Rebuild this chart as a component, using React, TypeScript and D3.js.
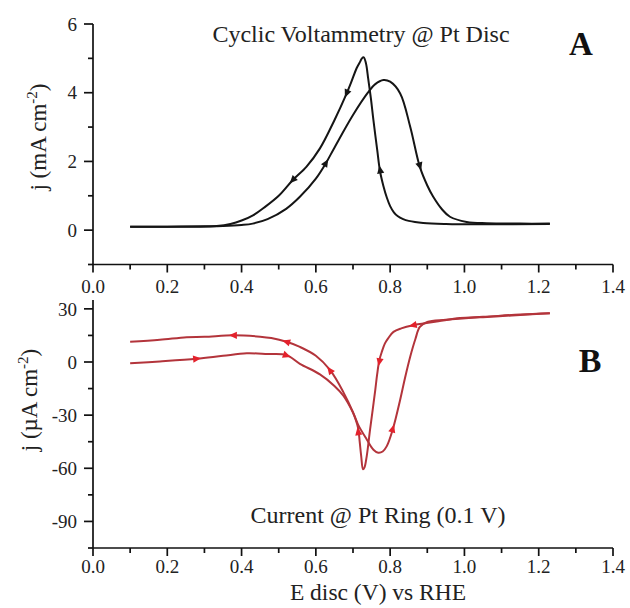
import React from "react";
import * as d3 from "d3";

// ---------- data ----------
// Panel A: cyclic voltammetry at Pt disc (E in V vs RHE, j in mA cm^-2), scan order
const cvForwardE = [0.10, 0.20, 0.30, 0.35, 0.40, 0.43, 0.47, 0.52, 0.557, 0.60, 0.627, 0.65, 0.70, 0.74, 0.76, 0.782, 0.80, 0.827, 0.854, 0.88, 0.90, 0.916, 0.94, 0.961, 1.006, 1.06, 1.15, 1.23];
const cvForwardJ = [0.10, 0.10, 0.11, 0.12, 0.15, 0.19, 0.32, 0.62, 0.97, 1.50, 1.95, 2.40, 3.35, 4.00, 4.25, 4.37, 4.32, 3.98, 3.01, 1.84, 1.30, 0.97, 0.60, 0.39, 0.24, 0.20, 0.19, 0.19];
const cvReverseE = [1.23, 1.05, 0.95, 0.889, 0.85, 0.835, 0.82, 0.81, 0.80, 0.791, 0.782, 0.773, 0.765, 0.755, 0.748, 0.741, 0.735, 0.729, 0.724, 0.72, 0.71, 0.695, 0.683, 0.65, 0.611, 0.575, 0.538, 0.50, 0.46, 0.432, 0.40, 0.37, 0.333, 0.28, 0.20, 0.10];
const cvReverseJ = [0.18, 0.17, 0.18, 0.21, 0.27, 0.32, 0.41, 0.52, 0.70, 0.95, 1.28, 1.70, 2.35, 3.20, 3.85, 4.40, 4.85, 5.03, 5.00, 4.92, 4.72, 4.30, 3.98, 3.20, 2.38, 1.85, 1.46, 1.00, 0.65, 0.44, 0.28, 0.18, 0.12, 0.10, 0.10, 0.10];
const cvForwardArrows = [0.627, 0.88];
const cvReverseArrows = [0.773, 0.683, 0.538];

// Panel B: Pt ring current (j in µA cm^-2), scan order
const ringForwardE = [0.10, 0.18, 0.279, 0.35, 0.414, 0.47, 0.521, 0.557, 0.611, 0.65, 0.674, 0.70, 0.714, 0.737, 0.755, 0.768, 0.78, 0.791, 0.807, 0.827, 0.84, 0.854, 0.868, 0.88, 0.90, 0.95, 1.05, 1.15, 1.23];
const ringForwardJ = [-0.7, 0.3, 1.8, 3.5, 4.9, 4.5, 3.9, -1.0, -7.0, -13.5, -19.0, -28.5, -35.5, -43.7, -49.5, -51.2, -50.5, -47.5, -38.1, -21.3, -9.0, 3.0, 13.0, 19.8, 22.6, 23.8, 25.3, 26.5, 27.5];
const ringReverseE = [1.23, 1.15, 1.05, 0.988, 0.93, 0.889, 0.862, 0.83, 0.809, 0.795, 0.786, 0.778, 0.771, 0.765, 0.76, 0.753, 0.746, 0.737, 0.731, 0.727, 0.722, 0.718, 0.714, 0.70, 0.674, 0.638, 0.60, 0.557, 0.521, 0.48, 0.45, 0.378, 0.30, 0.252, 0.18, 0.10];
const ringReverseJ = [27.5, 26.8, 25.5, 24.8, 23.0, 21.7, 20.8, 19.0, 17.0, 13.5, 10.5, 6.0, 1.1, -7.0, -15.7, -27.0, -38.1, -53.1, -59.5, -60.6, -53.0, -45.0, -37.5, -28.5, -17.0, -4.5, 3.5, 8.5, 11.4, 13.5, 14.3, 15.1, 14.2, 14.0, 12.5, 11.4];
const ringForwardArrows = [0.279, 0.521, 0.807];
const ringReverseArrows = [0.862, 0.771, 0.714, 0.638, 0.521, 0.378];

// ticks
const xTicks = [0, 0.2, 0.4, 0.6, 0.8, 1.0, 1.2, 1.4];
const xMinor = [0.1, 0.3, 0.5, 0.7, 0.9, 1.1, 1.3];
const topYTicks = [0, 2, 4, 6];
const topYMinor = [-1, 1, 3, 5];
const botYTicks = [30, 0, -30, -60, -90];
const botYMinor = [15, -15, -45, -75, -105];

// ---------- layout ----------
const W = 630;
const H = 608;
const FONT = "'Liberation Serif', 'Times New Roman', serif";
const x = d3.scaleLinear().domain([0, 1.4]).range([93, 613]);
const yTop = d3.scaleLinear().domain([-1, 6]).range([264.5, 24]);
const yBot = d3.scaleLinear().domain([-105, 35]).range([548, 300]);
const fmtX = d3.format(".1f");

type Pt = [number, number];
const zip = (a: number[], b: number[]): Pt[] => a.map((v, i) => [v, b[i]]);

function interp(pts: Pt[], e: number): Pt | null {
  for (let i = 0; i < pts.length - 1; i++) {
    const [e0, j0] = pts[i];
    const [e1, j1] = pts[i + 1];
    if ((e - e0) * (e - e1) <= 0 && e0 !== e1) {
      const t = (e - e0) / (e1 - e0);
      return [e, j0 + t * (j1 - j0)];
    }
  }
  return null;
}

function Arrows({ pts, at, y, dir, color }: { pts: Pt[]; at: number[]; y: d3.ScaleLinear<number, number>; dir: number; color: string }) {
  return (
    <g>
      {at.map((e, k) => {
        const p = interp(pts, e - dir * 0.003);
        const q = interp(pts, e + dir * 0.003);
        if (!p || !q) return null;
        const px = x(p[0]), py = y(p[1]);
        const qx = x(q[0]), qy = y(q[1]);
        const ang = (Math.atan2(qy - py, qx - px) * 180) / Math.PI;
        return (
          <path
            key={k}
            d="M4.5,0 L-3.5,-3.6 L-3.5,3.6 Z"
            fill={color}
            transform={`translate(${(px + qx) / 2},${(py + qy) / 2}) rotate(${ang})`}
          />
        );
      })}
    </g>
  );
}

function Panel({ y, yTicks, yMinor, labelY }: { y: d3.ScaleLinear<number, number>; yTicks: number[]; yMinor: number[]; labelY: number }) {
  const [y0, y1] = y.range();
  const axisY = y0;
  return (
    <g stroke="#111" strokeWidth={1.7} fill="none">
      <line x1={x(0)} x2={x(0)} y1={y1} y2={y0} />
      <line x1={x(0)} x2={x(1.4)} y1={axisY} y2={axisY} />
      {xTicks.map((t) => (
        <line key={"xt" + t} x1={x(t)} x2={x(t)} y1={axisY} y2={axisY + 8} />
      ))}
      {xMinor.map((t) => (
        <line key={"xm" + t} x1={x(t)} x2={x(t)} y1={axisY} y2={axisY + 5} />
      ))}
      {yTicks.map((t) => (
        <line key={"yt" + t} x1={x(0) - 9} x2={x(0)} y1={y(t)} y2={y(t)} />
      ))}
      {yMinor.map((t) => (
        <line key={"ym" + t} x1={x(0) - 5} x2={x(0)} y1={y(t)} y2={y(t)} />
      ))}
      <g stroke="none" fill="#222" fontFamily={FONT} fontSize={19}>
        {xTicks.map((t) => (
          <text key={"xl" + t} x={x(t)} y={labelY} textAnchor="middle">
            {fmtX(t)}
          </text>
        ))}
        {yTicks.map((t) => (
          <text key={"yl" + t} x={77} y={y(t)} dy="0.35em" textAnchor="end">
            {t}
          </text>
        ))}
      </g>
    </g>
  );
}

export default function App() {
  const lineTop = d3
    .line<Pt>()
    .x((d) => x(d[0]))
    .y((d) => yTop(d[1]))
    .curve(d3.curveCatmullRom.alpha(0.5));
  const lineBot = d3
    .line<Pt>()
    .x((d) => x(d[0]))
    .y((d) => yBot(d[1]))
    .curve(d3.curveCatmullRom.alpha(0.5));

  const cvF = zip(cvForwardE, cvForwardJ);
  const cvR = zip(cvReverseE, cvReverseJ);
  const rF = zip(ringForwardE, ringForwardJ);
  const rR = zip(ringReverseE, ringReverseJ);

  const black = "#151515";
  const red = "#b3343b";
  const redArrow = "#e3222c";

  return (
    <svg
      width={W}
      height={H}
      viewBox={`0 0 ${W} ${H}`}
      style={{ position: "absolute", left: 0, top: 0, background: "#fff" }}
    >
      <rect width={W} height={H} fill="#fff" />
      <Panel y={yTop} yTicks={topYTicks} yMinor={topYMinor} labelY={293} />
      <Panel y={yBot} yTicks={botYTicks} yMinor={botYMinor} labelY={573} />

      {/* Panel A curves */}
      <path d={lineTop(cvF) || ""} fill="none" stroke={black} strokeWidth={2} />
      <path d={lineTop(cvR) || ""} fill="none" stroke={black} strokeWidth={2} />
      <Arrows pts={cvF} at={cvForwardArrows} y={yTop} dir={1} color={black} />
      <Arrows pts={cvR} at={cvReverseArrows} y={yTop} dir={-1} color={black} />

      {/* Panel B curves */}
      <path d={lineBot(rF) || ""} fill="none" stroke={red} strokeWidth={2} />
      <path d={lineBot(rR) || ""} fill="none" stroke={red} strokeWidth={2} />
      <Arrows pts={rF} at={ringForwardArrows} y={yBot} dir={1} color={redArrow} />
      <Arrows pts={rR} at={ringReverseArrows} y={yBot} dir={-1} color={redArrow} />

      {/* Texts */}
      <g fontFamily={FONT} fill="#222">
        <text x={361} y={42} textAnchor="middle" fontSize={24}>
          Cyclic Voltammetry @ Pt Disc
        </text>
        <text x={581} y={55} textAnchor="middle" fontSize={33} fontWeight="bold" fill="#111">
          A
        </text>
        <text x={378} y={523} textAnchor="middle" fontSize={24}>
          Current @ Pt Ring (0.1 V)
        </text>
        <text x={590} y={372} textAnchor="middle" fontSize={34} fontWeight="bold" fill="#111">
          B
        </text>
        <text x={378} y={600} textAnchor="middle" fontSize={23.5}>
          E disc (V) vs RHE
        </text>
        <text transform="translate(46,137) rotate(-90)" textAnchor="middle" fontSize={23}>
          j (mA cm
          <tspan dy={-9} fontSize={15}>-2</tspan>
          <tspan dy={9}>)</tspan>
        </text>
        <text transform="translate(37,400) rotate(-90)" textAnchor="middle" fontSize={23}>
          j (µA cm
          <tspan dy={-9} fontSize={15}>-2</tspan>
          <tspan dy={9}>)</tspan>
        </text>
      </g>
    </svg>
  );
}
